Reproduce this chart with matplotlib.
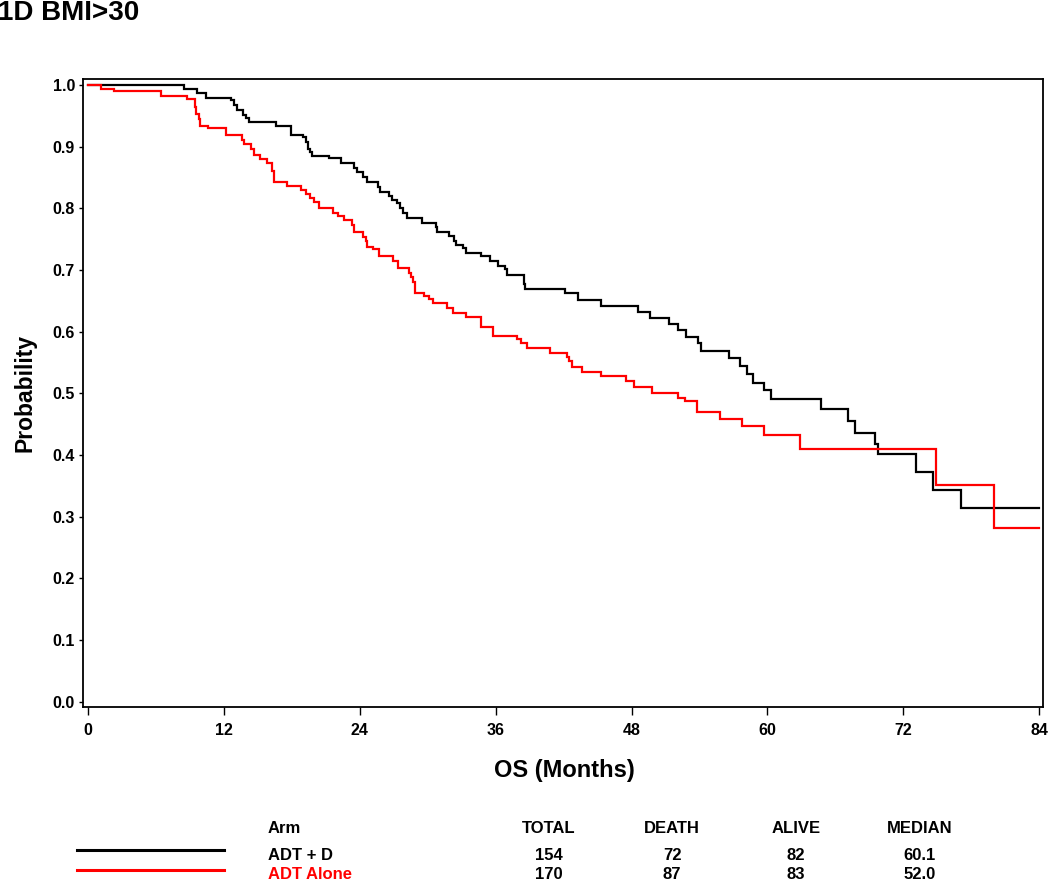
import matplotlib
matplotlib.use("Agg")
import matplotlib.pyplot as plt
from matplotlib.lines import Line2D

plt.rcParams['font.family'] = ['Liberation Sans', 'DejaVu Sans']

# ---------------- data ----------------
title = "1D BMI>30"
arms = ["ADT + D", "ADT Alone"]
arm_colors = ["#000000", "#FF0000"]
table_cols = ["TOTAL", "DEATH", "ALIVE", "MEDIAN"]
total = ["154", "170"]
death = ["72", "87"]
alive = ["82", "83"]
median = ["60.1", "52.0"]

x_ticks = [0, 12, 24, 36, 48, 60, 72, 84]
y_ticks = [0.0, 0.1, 0.2, 0.3, 0.4, 0.5, 0.6, 0.7, 0.8, 0.9, 1.0]

# ADT + D (black) Kaplan-Meier steps
t_adt_d = [0, 8.5, 9.6, 10.4, 12.6, 12.9, 13.1, 13.7, 13.9, 14.2, 16.6, 17.9,
           19.0, 19.2, 19.4, 19.6, 19.8, 21.3, 22.3, 23.5, 23.7, 24.3, 24.6,
           25.6, 25.75, 26.6, 26.85, 27.3, 27.5, 27.8, 28.2, 29.5, 30.7, 30.85,
           31.9, 32.3, 32.5, 33.1, 33.4, 34.7, 35.5, 36.2, 36.8, 37.0, 38.5,
           38.6, 42.1, 43.3, 45.3, 48.6, 49.6, 51.3, 52.1, 52.8, 53.9, 54.1,
           56.6, 57.6, 58.2, 58.7, 59.7, 60.3, 64.7, 67.1, 67.7, 69.5, 69.8,
           73.1, 74.6, 77.1, 84.0]
s_adt_d = [1.0, 0.994, 0.987, 0.979, 0.976, 0.968, 0.960, 0.952, 0.946, 0.940,
           0.933, 0.919, 0.915, 0.907, 0.896, 0.891, 0.885, 0.881, 0.873, 0.866,
           0.859, 0.850, 0.842, 0.834, 0.826, 0.820, 0.814, 0.808, 0.800, 0.793,
           0.784, 0.777, 0.769, 0.762, 0.755, 0.747, 0.740, 0.735, 0.728, 0.722,
           0.715, 0.707, 0.701, 0.692, 0.677, 0.669, 0.662, 0.651, 0.642, 0.632,
           0.622, 0.613, 0.603, 0.592, 0.582, 0.569, 0.557, 0.544, 0.531, 0.517,
           0.505, 0.491, 0.474, 0.455, 0.436, 0.418, 0.402, 0.372, 0.343, 0.314,
           0.314]

# ADT Alone (red) Kaplan-Meier steps
t_adt = [0, 1.1, 2.3, 6.4, 8.7, 9.4, 9.55, 9.8, 9.9, 10.6, 12.2, 13.6, 13.8,
         14.4, 14.6, 15.2, 15.8, 16.2, 16.4, 17.6, 18.8, 19.2, 19.55, 19.9,
         20.35, 21.6, 22.1, 22.6, 23.3, 23.45, 24.3, 24.5, 24.6, 25.2, 25.7,
         26.9, 27.4, 28.3, 28.5, 28.7, 28.9, 29.7, 30.1, 30.5, 31.7, 32.2, 33.4,
         34.7, 35.8, 37.9, 38.2, 38.8, 40.8, 42.3, 42.5, 42.7, 43.6, 45.3, 47.5,
         48.2, 49.8, 52.1, 52.7, 53.8, 55.8, 57.8, 59.7, 62.9, 74.9, 80.0, 84.0]
s_adt = [1.0, 0.994, 0.990, 0.982, 0.977, 0.965, 0.953, 0.945, 0.933, 0.930,
         0.919, 0.911, 0.904, 0.896, 0.887, 0.880, 0.873, 0.861, 0.842, 0.837,
         0.830, 0.823, 0.817, 0.810, 0.801, 0.793, 0.788, 0.781, 0.773, 0.762,
         0.754, 0.747, 0.738, 0.734, 0.722, 0.714, 0.703, 0.695, 0.688, 0.681,
         0.663, 0.658, 0.653, 0.646, 0.638, 0.631, 0.623, 0.608, 0.593, 0.588,
         0.581, 0.574, 0.566, 0.559, 0.552, 0.543, 0.535, 0.528, 0.520, 0.511,
         0.501, 0.493, 0.487, 0.470, 0.459, 0.447, 0.433, 0.409, 0.351, 0.281,
         0.281]

# ---------------- figure ----------------
W, H = 1050, 880
fig = plt.figure(figsize=(W / 100, H / 100), dpi=100)
fig.patch.set_facecolor("white")

ax_l, ax_r, ax_t, ax_b = 83.3, 1043.3, 79.3, 706.7
ax = fig.add_axes([ax_l / W, 1 - ax_b / H, (ax_r - ax_l) / W, (ax_b - ax_t) / H])

ax.step(t_adt_d, s_adt_d, where="post", color=arm_colors[0], lw=1.6,
        solid_joinstyle="miter")
ax.step(t_adt, s_adt, where="post", color=arm_colors[1], lw=1.6,
        solid_joinstyle="miter")

ax.set_xlim(-0.44, 84.38)
ax.set_ylim(-0.0081, 1.0092)
ax.set_xticks(x_ticks)
ax.set_xticklabels([str(v) for v in x_ticks], fontsize=11.5, fontweight="bold")
ax.set_yticks(y_ticks)
ax.set_yticklabels([f"{v:.1f}" for v in y_ticks], fontsize=11.5, fontweight="bold")
ax.tick_params(axis="x", direction="out", length=5.5, width=1.0, pad=6.5)
ax.tick_params(axis="y", direction="out", length=3, width=1.0, pad=3)
for sp in ax.spines.values():
    sp.set_linewidth(1.3)
    sp.set_color("black")

fig.text(25 / W, 1 - 393 / H, "Probability", rotation=90, ha="center",
         va="center", fontsize=16.5, fontweight="bold")
fig.text(564 / W, 1 - 770 / H, "OS (Months)", ha="center", va="center",
         fontsize=17, fontweight="bold")
fig.text(-2 / W, 1 - 20 / H, title, ha="left", va="baseline",
         fontsize=20, fontweight="bold")

# ---------------- summary table ----------------
fs_tab = 12
col_x = [549, 672, 796, 920]
base_hdr, base_r = 833, [860, 878.5]
line_y = [850, 870]

fig.text(268 / W, 1 - base_hdr / H, "Arm", ha="left", va="baseline",
         fontsize=fs_tab, fontweight="bold")
for cx, name in zip(col_x, table_cols):
    fig.text(cx / W, 1 - base_hdr / H, name, ha="center", va="baseline",
             fontsize=fs_tab, fontweight="bold")

rows = list(zip(total, death, alive, median))
for i, arm in enumerate(arms):
    fig.add_artist(Line2D([77 / W, 224 / W], [1 - line_y[i] / H] * 2,
                          color=arm_colors[i], lw=2.2, transform=fig.transFigure))
    fig.text(268 / W, 1 - base_r[i] / H, arm, ha="left", va="baseline",
             fontsize=fs_tab, fontweight="bold", color=arm_colors[i])
    for cx, val in zip(col_x, rows[i]):
        fig.text(cx / W, 1 - base_r[i] / H, val, ha="center", va="baseline",
                 fontsize=fs_tab, fontweight="bold")

fig.savefig("out.png", dpi=100, facecolor="white")
